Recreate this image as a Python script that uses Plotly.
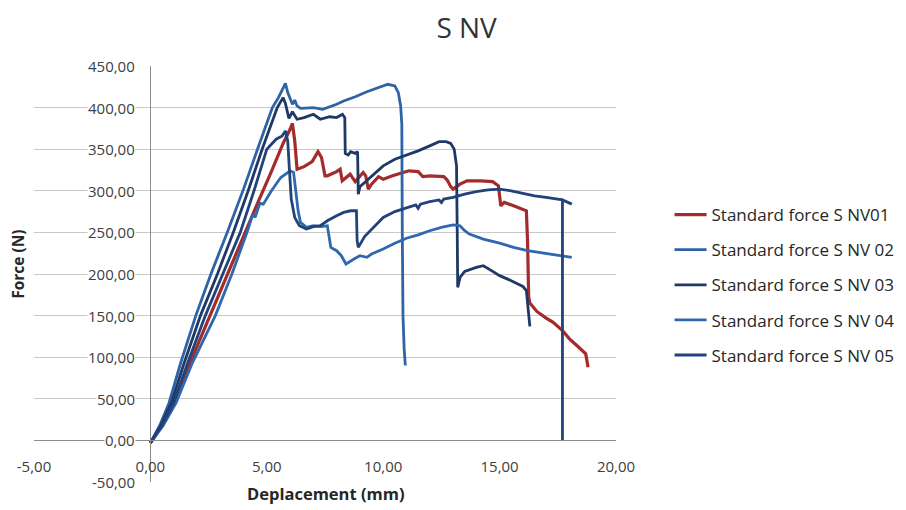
import plotly.graph_objects as go

# ---------------- data ----------------
series_names = ["Standard force S NV01", "Standard force S NV 02", "Standard force S NV 03",
                "Standard force S NV 04", "Standard force S NV 05"]

nv01_x = [0, 0.5, 0.9, 1.5, 2.0, 2.58, 3.3, 4.08, 4.6, 5.15, 5.7, 6.0, 6.1, 6.2, 6.3, 6.6, 6.95, 7.2, 7.35,
          7.5, 7.6, 8.0, 8.15, 8.24, 8.58, 8.7, 8.8, 9.14, 9.25, 9.36, 9.5, 9.8, 10.0, 10.4, 11.1, 11.5, 11.7,
          12.0, 12.6, 12.75, 12.9, 13.0, 13.3, 13.6, 14.2, 14.7, 14.95, 15.05, 15.2, 15.6, 16.0, 16.15, 16.2,
          16.25, 16.3, 16.6, 17.0, 17.3, 17.7, 18.0, 18.4, 18.7, 18.75, 18.8]
nv01_f = [-3, 18, 40, 80, 113, 150, 200, 250, 285, 320, 357, 374, 381, 360, 326, 329, 335, 347, 340,
          318, 318, 323, 326, 312, 320, 315, 311, 322, 318, 302, 308, 317, 314, 318, 324, 323, 317,
          318, 317, 313, 305, 302, 308, 312, 312, 311, 306, 282, 286, 282, 278, 276, 240,
          172, 165, 155, 147, 142, 132, 122, 112, 104, 96, 88]

nv02_x = [0, 0.4, 0.8, 1.3, 1.95, 2.6, 3.3, 4.0, 4.6, 5.24, 5.5, 5.8, 5.9, 6.0, 6.1, 6.2, 6.3, 6.45, 7.0,
          7.4, 7.7, 8.0, 8.3, 8.8, 9.3, 9.8, 10.2, 10.5, 10.65, 10.75, 10.8, 10.82, 10.85, 10.9, 10.95]
nv02_f = [-3, 18, 45, 93, 150, 200, 250, 302, 350, 400, 412, 429, 418, 410, 404, 409, 402, 399, 400,
          398, 401, 404, 408, 413, 419, 424, 428, 426, 418, 402, 380, 250, 150, 110, 90]

nv03_x = [0, 0.45, 0.9, 1.45, 2.15, 2.88, 3.56, 4.2, 4.8, 5.45, 5.7, 5.8, 5.95, 6.1, 6.3, 6.6, 7.0, 7.3,
          7.7, 8.0, 8.25, 8.35, 8.37, 8.5, 8.6, 8.8, 8.9, 8.93, 9.0, 9.5, 10.0, 10.5, 11.0, 11.5, 12.0,
          12.4, 12.7, 12.9, 13.05, 13.15, 13.18, 13.2, 13.3, 13.5, 14.0, 14.3, 14.6, 15.0, 15.5, 16.0,
          16.15, 16.2, 16.25, 16.3]
nv03_f = [-3, 18, 45, 93, 150, 200, 250, 300, 350, 400, 412, 405, 387, 395, 386, 388, 392, 386,
          389, 388, 392, 388, 345, 343, 347, 345, 347, 296, 305, 318, 330, 338, 343, 348, 354,
          359, 359, 357, 350, 330, 250, 184, 196, 203, 208, 210, 205, 198, 192, 185,
          180, 168, 150, 137]

nv04_x = [0, 0.55, 1.1, 1.8, 2.79, 3.5, 4.15, 4.4, 4.5, 4.7, 4.85, 5.2, 5.6, 6.0, 6.15, 6.25, 6.35, 6.45,
          6.7, 7.0, 7.3, 7.6, 7.7, 7.75, 8.0, 8.2, 8.4, 8.6, 8.8, 9.0, 9.3, 9.5, 10.0, 10.5, 11.0, 11.5,
          12.0, 12.5, 13.0, 13.3, 13.5, 13.7, 14.3, 15.0, 15.6, 16.2, 17.0, 17.7, 18.1]
nv04_f = [-3, 18, 45, 93, 150, 200, 250, 272, 268, 285, 284, 300, 316, 324, 322, 300, 275, 262,
          256, 258, 257, 258, 240, 232, 228, 222, 212, 216, 219, 222, 220, 224, 230, 237, 243, 247,
          252, 256, 259, 258, 252, 248, 242, 237, 232, 228, 225, 222, 220]

nv05_x = [0, 0.5, 1.0, 1.6, 2.36, 3.1, 3.86, 4.45, 5.0, 5.4, 5.66, 5.8, 5.9, 5.97, 6.05, 6.2, 6.4, 6.7,
          7.0, 7.3, 7.6, 8.0, 8.3, 8.6, 8.85, 8.88, 8.93, 9.2, 9.6, 10.0, 10.5, 11.0, 11.4, 11.5, 11.6,
          12.0, 12.4, 12.5, 12.6, 13.0, 13.5, 14.0, 14.5, 15.0, 15.5, 16.0, 16.5, 17.0, 17.5, 17.7,
          18.1, 17.7, 17.7]
nv05_f = [-3, 18, 45, 93, 150, 200, 250, 300, 350, 362, 366, 372, 360, 326, 290, 268, 258, 254,
          257, 258, 264, 270, 274, 276, 276, 240, 232, 245, 257, 268, 275, 279, 283, 279, 284,
          287, 289, 286, 290, 292, 296, 299, 301, 302, 300, 297, 294, 292, 290, 289,
          284, 289, 0]

series_x = [nv01_x, nv02_x, nv03_x, nv04_x, nv05_x]
series_f = [nv01_f, nv02_f, nv03_f, nv04_f, nv05_f]
series_colors = ["#A32B2C", "#2E63A6", "#1F3966", "#2F68AE", "#22427A"]
series_widths = [3.2, 2.8, 2.8, 2.8, 2.8]

x_tick_vals = [-5, 0, 5, 10, 15, 20]
x_tick_text = ["-5,00", "0,00", "5,00", "10,00", "15,00", "20,00"]
y_tick_vals = [-50, 0, 50, 100, 150, 200, 250, 300, 350, 400, 450]
y_tick_text = ["-50,00", "0,00", "50,00", "100,00", "150,00", "200,00", "250,00",
               "300,00", "350,00", "400,00", "450,00"]

title_text = "S NV"
x_title = "Deplacement (mm)"
y_title = "Force (N)"

FONT = "Open Sans"
TXT = "#404040"

fig = go.Figure()
for i in range(len(series_names)):
    fig.add_trace(go.Scatter(
        x=series_x[i], y=series_f[i], mode="lines", name=series_names[i],
        legendgroup=f"g{i}",
        line=dict(color=series_colors[i], width=series_widths[i]),
    ))

# y tick labels drawn at the y-axis (x = 0) with a white backing like Excel
for v, t in zip(y_tick_vals, y_tick_text):
    fig.add_annotation(x=0, y=v, xref="x", yref="y", text=t, showarrow=False,
                       xanchor="right", yanchor="middle", xshift=-14,
                       bgcolor="white", borderpad=0,
                       font=dict(family=FONT, size=15, color=TXT))

fig.add_annotation(x=0, y=0.522, xref="paper", yref="paper", xshift=-16,
                   text=f"<b>{y_title}</b>", textangle=-90, showarrow=False,
                   xanchor="center", yanchor="middle",
                   font=dict(family=FONT, size=15.5, color="#262626"))
fig.add_annotation(x=0.5, y=-0.028, xref="paper", yref="paper",
                   text=f"<b>{x_title}</b>", showarrow=False,
                   xanchor="center", yanchor="middle",
                   font=dict(family=FONT, size=16.5, color="#262626"))

fig.update_layout(
    width=906, height=510,
    margin=dict(l=34, r=290, t=66, b=28, autoexpand=False),
    paper_bgcolor="white", plot_bgcolor="white",
    title=dict(text=title_text, xref="container", x=0.515, xanchor="center",
               yref="container", y=0.945, yanchor="middle",
               font=dict(family=FONT, size=28, color="#333333")),
    showlegend=True,
    legend=dict(x=1.092, xanchor="left", y=0.685, yanchor="top",
                font=dict(family=FONT, size=17, color="#262626"),
                itemwidth=32,
                tracegroupgap=10, bgcolor="rgba(0,0,0,0)"),
    xaxis=dict(range=[-5, 20], tickvals=x_tick_vals, ticktext=x_tick_text,
               anchor="free", position=0.1, showgrid=False, zeroline=False,
               showline=True, linecolor="#8c8c8c", linewidth=1.2,
               ticks="", ticklabelstandoff=12,
               tickfont=dict(family=FONT, size=15, color=TXT)),
    yaxis=dict(range=[-50, 450], tickvals=y_tick_vals, showticklabels=False,
               anchor="free", position=0.2, showgrid=True, gridcolor="#c8c8c8",
               gridwidth=1, zeroline=False, showline=True, linecolor="#8c8c8c",
               linewidth=1.2, ticks=""),
)

fig.write_html("out.html")
